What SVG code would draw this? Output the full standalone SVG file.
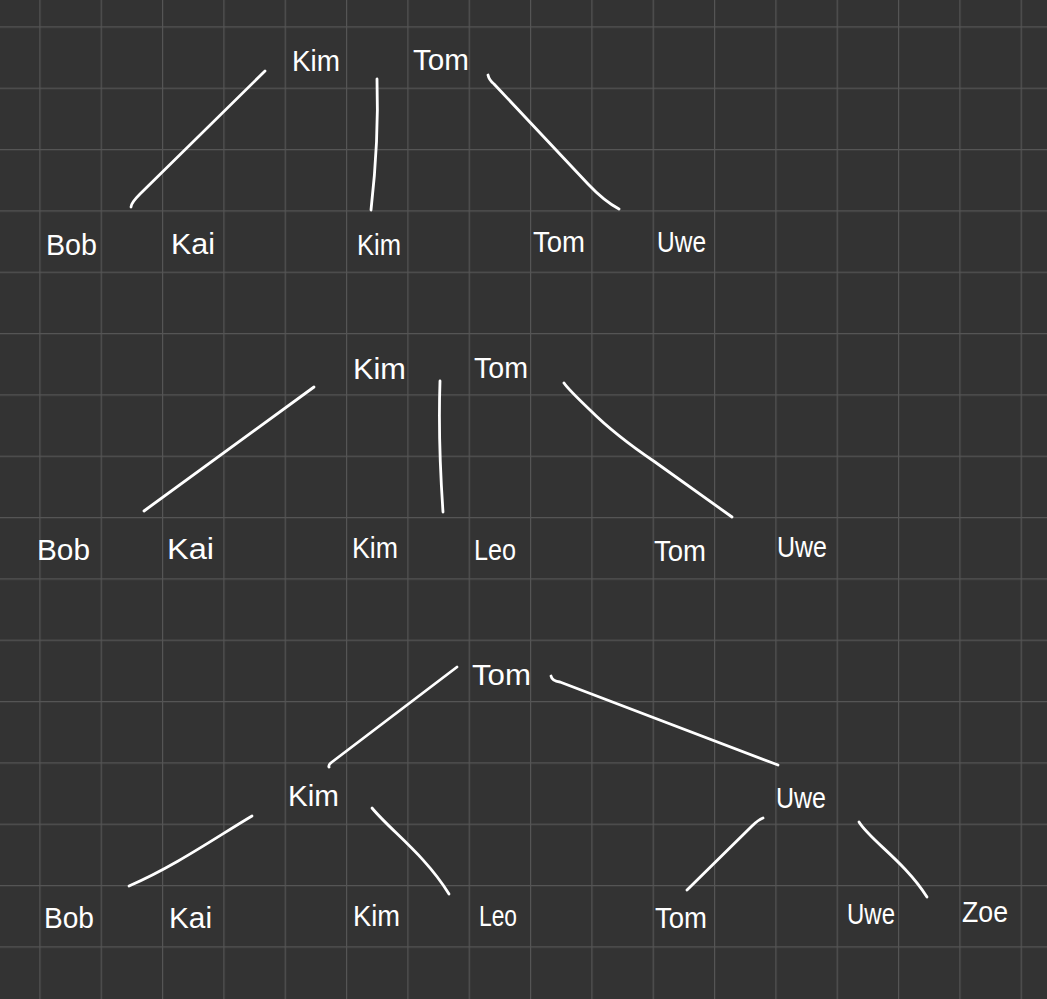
<svg xmlns="http://www.w3.org/2000/svg" width="1047" height="999" viewBox="0 0 1047 999">
<defs>
<pattern id="grid" x="39.33" y="26.33" width="61.333" height="61.333" patternUnits="userSpaceOnUse">
<path d="M0,0 H61.333 M0,0 V61.333" fill="none" stroke="#555555" stroke-width="2.4"/>
</pattern>
<style>
.t{font-family:"Liberation Sans","DejaVu Sans",sans-serif;font-size:30px;fill:#ffffff}
.c path{fill:none;stroke:#ffffff;stroke-width:2.8;stroke-linecap:round;stroke-linejoin:round}
</style>
</defs>
<rect width="1047" height="999" fill="#333333"/>
<rect width="1047" height="999" fill="url(#grid)"/>

<g class="c" id="connectors">
<path d="M265,71 L140,194 Q131,203 131,207"/>
<path d="M377,79 Q379,140 371,210"/>
<path d="M488,75 Q489,80 494,84 L588,184 Q604,201 619,209"/>

<path d="M314,387 L144,511"/>
<path d="M440,381 Q438,440 443,512"/>
<path d="M564,383 Q568,389 590,410 Q615,435 655,462 L732,517"/>

<path d="M457,667 L332,762 Q328,765 329,767"/>
<path d="M551,676 Q552,681 560,682 L778,765"/>
<path d="M252,816 C215,838 175,866 129,886"/>
<path d="M372,808 C390,830 425,855 449,894"/>
<path d="M763,818 Q758,820 752,826 L687,890"/>
<path d="M859,822 C870,840 905,862 927,897"/>
</g>

<g id="t1-kim-top"><text class="t" x="292" y="71" textLength="48" lengthAdjust="spacingAndGlyphs">Kim</text></g>
<g id="t1-tom-top"><text class="t" x="413" y="70" textLength="56" lengthAdjust="spacingAndGlyphs">Tom</text></g>
<g id="t1-bob"><text class="t" x="46" y="255" textLength="51" lengthAdjust="spacingAndGlyphs">Bob</text></g>
<g id="t1-kai"><text class="t" x="171" y="254" textLength="44" lengthAdjust="spacingAndGlyphs">Kai</text></g>
<g id="t1-kim"><text class="t" x="357" y="255" textLength="44" lengthAdjust="spacingAndGlyphs">Kim</text></g>
<g id="t1-tom"><text class="t" x="533" y="252" textLength="52" lengthAdjust="spacingAndGlyphs">Tom</text></g>
<g id="t1-uwe"><text class="t" x="657" y="252" textLength="49" lengthAdjust="spacingAndGlyphs">Uwe</text></g>

<g id="t2-kim-top"><text class="t" x="353" y="379" textLength="53" lengthAdjust="spacingAndGlyphs">Kim</text></g>
<g id="t2-tom-top"><text class="t" x="474" y="378" textLength="54" lengthAdjust="spacingAndGlyphs">Tom</text></g>
<g id="t2-bob"><text class="t" x="37" y="560" textLength="53" lengthAdjust="spacingAndGlyphs">Bob</text></g>
<g id="t2-kai"><text class="t" x="167" y="559" textLength="47" lengthAdjust="spacingAndGlyphs">Kai</text></g>
<g id="t2-kim"><text class="t" x="352" y="558" textLength="46" lengthAdjust="spacingAndGlyphs">Kim</text></g>
<g id="t2-leo"><text class="t" x="474" y="560" textLength="42" lengthAdjust="spacingAndGlyphs">Leo</text></g>
<g id="t2-tom"><text class="t" x="654" y="561" textLength="52" lengthAdjust="spacingAndGlyphs">Tom</text></g>
<g id="t2-uwe"><text class="t" x="777" y="557" textLength="50" lengthAdjust="spacingAndGlyphs">Uwe</text></g>

<g id="t3-tom-root"><text class="t" x="472" y="685" textLength="59" lengthAdjust="spacingAndGlyphs">Tom</text></g>
<g id="t3-kim"><text class="t" x="288" y="806" textLength="51" lengthAdjust="spacingAndGlyphs">Kim</text></g>
<g id="t3-uwe"><text class="t" x="776" y="808" textLength="50" lengthAdjust="spacingAndGlyphs">Uwe</text></g>
<g id="t3-bob"><text class="t" x="44" y="928" textLength="50" lengthAdjust="spacingAndGlyphs">Bob</text></g>
<g id="t3-kai"><text class="t" x="169" y="928" textLength="43" lengthAdjust="spacingAndGlyphs">Kai</text></g>
<g id="t3-kim-leaf"><text class="t" x="353" y="926" textLength="47" lengthAdjust="spacingAndGlyphs">Kim</text></g>
<g id="t3-leo"><text class="t" x="479" y="926" textLength="38" lengthAdjust="spacingAndGlyphs">Leo</text></g>
<g id="t3-tom"><text class="t" x="655" y="928" textLength="52" lengthAdjust="spacingAndGlyphs">Tom</text></g>
<g id="t3-uwe-leaf"><text class="t" x="847" y="924" textLength="48" lengthAdjust="spacingAndGlyphs">Uwe</text></g>
<g id="t3-zoe"><text class="t" x="962" y="922" textLength="46" lengthAdjust="spacingAndGlyphs">Zoe</text></g>
</svg>
